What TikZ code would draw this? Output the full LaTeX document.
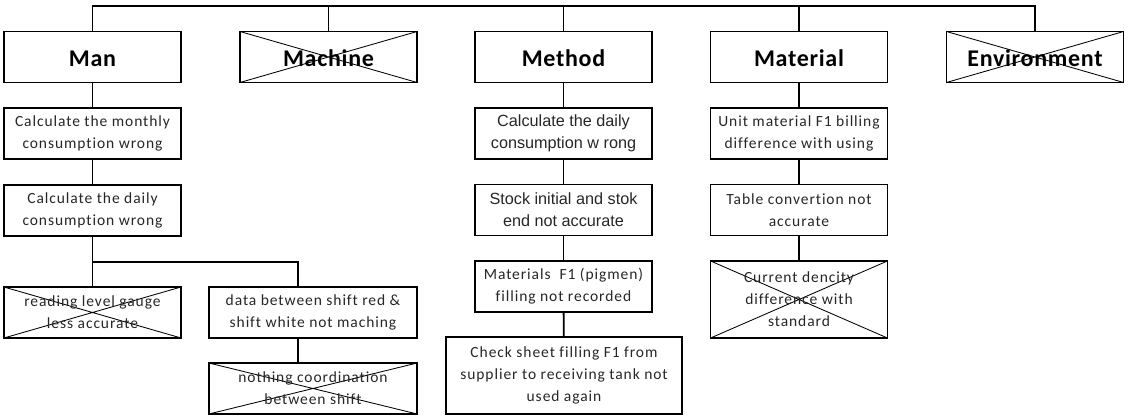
\documentclass[tikz,border=0pt]{standalone}
\usepackage{fontspec}
\setmainfont[Ligatures=NoCommon, LetterSpace=6]{Carlito}
\newfontfamily\headfont[Ligatures=NoCommon, LetterSpace=3]{Carlito}
\newfontfamily\arialfont{Liberation Sans}
\tikzset{
  cause/.style={draw, line width=1.3pt, inner sep=0pt, align=center,
    minimum width=125.4pt, minimum height=36.1pt,
    font=\fontsize{11}{15.5}\selectfont, text=black!85},
  head/.style={cause, font=\headfont\fontsize{17}{18}\selectfont\bfseries, text=black,
    text height=14pt, text depth=1.2pt},
  tallcause/.style={cause, minimum height=54.6pt},
  widecause/.style={cause, minimum width=147.4pt},
  crossed/.style={path picture={
      \draw[line width=0.6pt] (path picture bounding box.north west) -- (path picture bounding box.south east)
        (path picture bounding box.south west) -- (path picture bounding box.north east);}},
  link/.style={line width=1.3pt}
}
\begin{document}
\begin{tikzpicture}[x=0.7087pt, y=-0.7087pt]
  \useasboundingbox (0,0) rectangle (1134,419);
  % main categories
  \node[head] (man) at (92.5,57) {Man};
  \node[head, crossed] (machine) at (328.5,57) {Machine};
  \node[head] (method) at (563.5,57) {Method};
  \node[head] (material) at (799,57) {Material};
  \node[head, crossed] (env) at (1035,57) {Environment};
  \coordinate (bar) at (0,6);
  \draw[link] (man.north) -- (man.north |- bar) -- (env.north |- bar) -- (env.north);
  \draw[link] (machine.north) -- (machine.north |- bar);
  \draw[link] (method.north) -- (method.north |- bar);
  \draw[link] (material.north) -- (material.north |- bar);
  % man
  \node[cause] (monthly) at (92.5,133.5) {Calculate the monthly\\consumption wrong};
  \node[cause] (daily) at (92.5,210.5) {Calculate the daily\\consumption wrong};
  \node[cause, crossed] (gauge) at (92.5,312.5) {reading level gauge\\less accurate};
  \node[widecause] (shiftdata) at (313,312.5) {data between shift red \&\\shift white not maching};
  \node[widecause, crossed] (coord) at (313,388.5) {nothing coordination\\between shift};
  \coordinate (fork) at (92.5,262);
  \coordinate (drop) at (298,262);
  \draw[link] (man) -- (monthly);
  \draw[link] (monthly) -- (daily);
  \draw[link] (daily) -- (gauge);
  \draw[link] (fork) -- (drop) -- (drop |- shiftdata.north);
  \draw[link] (shiftdata.south -| drop) -- (coord.north -| drop);
  % method
  \node[cause, font=\arialfont\fontsize{11.5}{15.5}\selectfont] (dailyw) at (563.5,133.5) {Calculate the daily\\consumption w rong};
  \node[cause, font=\arialfont\fontsize{11.5}{15.5}\selectfont] (stock) at (563.5,210) {Stock initial and stok\\end not accurate};
  \node[cause] (pigmen) at (563.5,286.5) {Materials~ F1 (pigmen)\\filling not recorded};
  \node[tallcause, minimum width=167.3pt] (check) at (564,375.5) {Check sheet filling F1 from\\supplier to receiving tank not\\used again};
  \draw[link] (method) -- (dailyw);
  \draw[link] (dailyw) -- (stock);
  \draw[link] (stock) -- (pigmen);
  \draw[link] (pigmen) -- (check);
  % material
  \node[cause] (unit) at (799,133.5) {Unit material F1 billing\\difference with using};
  \node[cause] (table) at (799,210) {Table convertion not\\accurate};
  \node[tallcause, crossed] (dencity) at (799,299.5) {Current dencity\\difference with\\standard};
  \draw[link] (material) -- (unit);
  \draw[link] (unit) -- (table);
  \draw[link] (table) -- (dencity);
\end{tikzpicture}
\end{document}
